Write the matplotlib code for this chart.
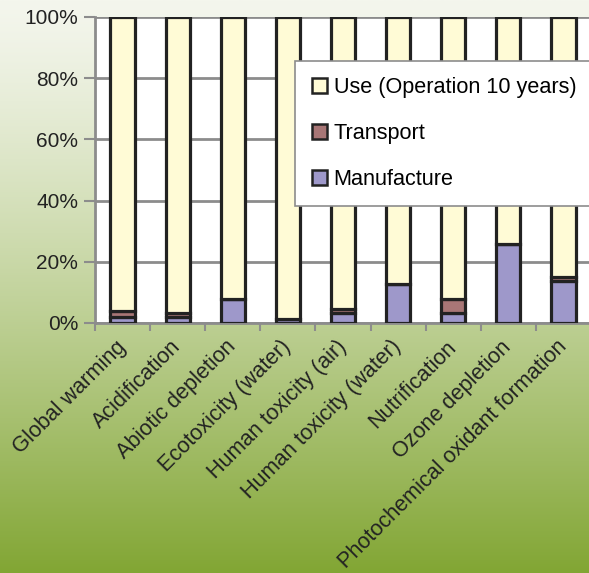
import numpy as np
import matplotlib
matplotlib.use("Agg")
import matplotlib.pyplot as plt
from matplotlib.patches import Patch

plt.rcParams['font.family'] = ['Liberation Sans', 'DejaVu Sans']

categories = ["Global warming", "Acidification", "Abiotic depletion", "Ecotoxicity (water)",
              "Human toxicity (air)", "Human toxicity (water)", "Nutrification",
              "Ozone depletion", "Photochemical oxidant formation"]
manufacture = [2.0, 2.0, 7.8, 1.3, 3.4, 12.6, 3.4, 25.8, 13.8]
transport = [1.9, 1.4, 0.0, 0.0, 1.2, 0.0, 4.4, 0.0, 1.3]
use = [100 - m - t for m, t in zip(manufacture, transport)]
y_ticks = [0, 20, 40, 60, 80, 100]

c_use = "#FFFBD6"
c_tr = "#A87676"
c_man = "#9E98CA"
edge = "#222222"

W, H = 589, 573
fig = plt.figure(figsize=(W / 100, H / 100), dpi=100)

# background gradient
bg = fig.add_axes([0, 0, 1, 1], zorder=-10)
t = np.linspace(0, 1, 256) ** 1.25
top = np.array([244, 246, 237]) / 255
bot = np.array([130, 166, 52]) / 255
grad = top[None, :] * (1 - t[:, None]) + bot[None, :] * t[:, None]
bg.imshow(grad[:, None, :], aspect='auto', extent=[0, 1, 0, 1])
bg.set_axis_off()

ax = fig.add_axes([95 / W, 1 - 323 / H, 496 / W, 306 / H])
ax.set_facecolor("white")
x = np.arange(len(categories))
bw = 0.44
bar_kw = dict(width=bw, edgecolor=edge, linewidth=2.3, zorder=3)
ax.bar(x, manufacture, color=c_man, **bar_kw)
ax.bar(x, transport, bottom=manufacture, color=c_tr, **bar_kw)
ax.bar(x, use, bottom=[m + t_ for m, t_ in zip(manufacture, transport)], color=c_use, **bar_kw)

ax.set_xlim(-0.5, len(categories) - 0.5)
ax.set_ylim(0, 100)
ax.set_yticks(y_ticks)
ax.set_yticklabels([f"{v}%" for v in y_ticks], fontsize=15, color="#222222")
ax.yaxis.grid(True, color="#8c8c8c", linewidth=2, zorder=0)
ax.set_axisbelow(True)

ax.set_xticks(np.arange(len(categories) + 1) - 0.5)
ax.set_xticklabels([])
ax.set_xticks(x, minor=True)
ax.set_xticklabels(categories, minor=True, rotation=45, ha='right', va='center',
                   rotation_mode='anchor', fontsize=15.6, color="#222222")
ax.tick_params(axis='x', which='minor', length=0, pad=15)
ax.tick_params(axis='x', which='major', length=6, width=1.5, color="#8c8c8c")
ax.tick_params(axis='y', length=8, width=1.5, color="#8c8c8c", pad=4)

for s in ['top', 'right']:
    ax.spines[s].set_visible(False)
for s in ['left', 'bottom']:
    ax.spines[s].set_color("#8c8c8c")
    ax.spines[s].set_linewidth(2)

handles = [Patch(facecolor=c_use, edgecolor=edge, linewidth=1.8, label="Use (Operation 10 years)"),
           Patch(facecolor=c_tr, edgecolor=edge, linewidth=1.8, label="Transport"),
           Patch(facecolor=c_man, edgecolor=edge, linewidth=1.8, label="Manufacture")]
leg = ax.legend(handles=handles, loc='upper left', bbox_to_anchor=(0.404, 0.856),
                fontsize=15.6, frameon=True, fancybox=False, framealpha=1,
                edgecolor="#8c8c8c", labelspacing=1.15, handlelength=0.72,
                handleheight=0.72, handletextpad=0.3, borderpad=0.75, borderaxespad=0)
leg.get_frame().set_linewidth(1.2)
leg.set_zorder(10)

fig.savefig("out.png", dpi=100)
